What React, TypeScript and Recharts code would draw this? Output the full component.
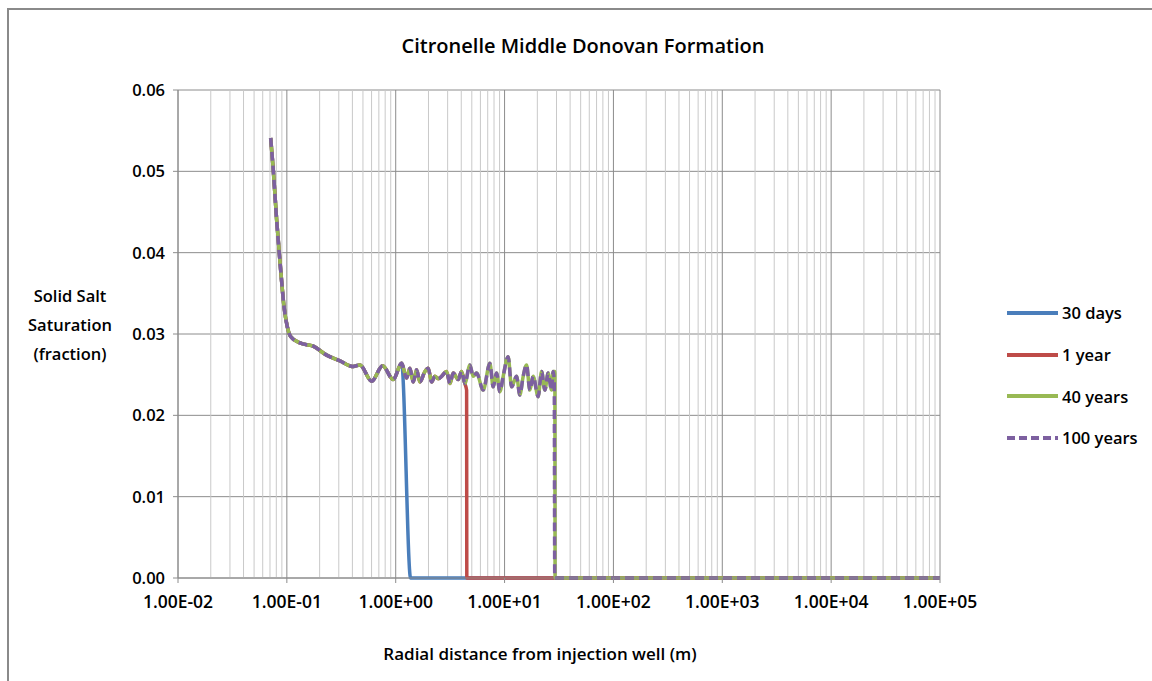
import React from "react";
import {
  LineChart,
  Line,
  XAxis,
  YAxis,
  CartesianGrid,
  ReferenceLine,
} from "recharts";

// Shared profile (radial distance in m, solid salt saturation)
const profileX = [
  0.071, 0.075, 0.0806, 0.0877, 0.0941, 0.1009, 0.1083, 0.1319, 0.1748, 0.232,
  0.3073, 0.4072, 0.469, 0.6008, 0.7584, 0.9484, 1.133, 1.259, 1.35, 1.448,
  1.556, 1.668, 1.854, 1.988, 2.137, 2.291, 2.457, 2.639, 2.934, 3.147, 3.373,
  3.749, 4.028, 4.318, 4.801, 5.148, 5.533, 6.362, 7.328, 7.859, 8.444, 9.054,
  9.707, 10.79, 11.6, 12.89, 13.82, 14.82, 15.92, 17.07, 18.31, 20.35, 21.87,
  23.45, 25.14, 27.02, 27.95,
];
const profileY = [
  0.0541, 0.0502, 0.044, 0.0379, 0.0334, 0.0309, 0.0297, 0.0289, 0.0285, 0.0274,
  0.0267, 0.026, 0.0262, 0.0242, 0.0261, 0.0244, 0.0264, 0.0246, 0.0258, 0.0241,
  0.0256, 0.0241, 0.0254, 0.0258, 0.0241, 0.0248, 0.0245, 0.0248, 0.0254, 0.0239,
  0.0252, 0.0244, 0.0254, 0.0239, 0.0262, 0.0248, 0.0252, 0.0231, 0.0264, 0.0235,
  0.0252, 0.0229, 0.0248, 0.0272, 0.0235, 0.0248, 0.0225, 0.0248, 0.0262, 0.0231,
  0.0248, 0.0223, 0.0254, 0.0231, 0.0252, 0.0231, 0.0254,
];

// Front positions (last wet point, then zero) for each time
const days30Tail = { lastX: 1.133, zeroX: 1.37, lastY: 0.0264 };
const year1Tail = { lastX: 4.48, zeroX: 4.5, lastY: 0.0231 };
const year40Tail = { lastX: 28.97, zeroX: 29.1, lastY: 0.0254 };
const year100Tail = { lastX: 28.6, zeroX: 28.9, lastY: 0.0242 };
const farEndX = 100000;

const xTicks = [0.01, 0.1, 1, 10, 100, 1000, 10000, 100000];
const xTickLabels = [
  "1.00E-02",
  "1.00E-01",
  "1.00E+00",
  "1.00E+01",
  "1.00E+02",
  "1.00E+03",
  "1.00E+04",
  "1.00E+05",
];
const yTicks = [0, 0.01, 0.02, 0.03, 0.04, 0.05, 0.06];
const minorMultipliers = [2, 3, 4, 5, 6, 7, 8, 9];

const seriesNames = ["30 days", "1 year", "40 years", "100 years"];
const seriesColors = ["#4A7EBB", "#BE4B48", "#98B954", "#7D60A0"];

function buildSeries(tail: { lastX: number; zeroX: number; lastY: number }) {
  const pts: { x: number; y: number }[] = [];
  for (let i = 0; i < profileX.length; i++) {
    if (profileX[i] < tail.lastX) pts.push({ x: profileX[i], y: profileY[i] });
  }
  pts.push({ x: tail.lastX, y: tail.lastY });
  pts.push({ x: tail.zeroX, y: 0 });
  pts.push({ x: farEndX, y: 0 });
  return pts;
}

const data30 = buildSeries(days30Tail);
const data1 = buildSeries(year1Tail);
const data40 = buildSeries(year40Tail);
const data100 = buildSeries(year100Tail);

const minorX: number[] = [];
for (let d = 0; d < xTicks.length - 1; d++) {
  for (const m of minorMultipliers) minorX.push(xTicks[d] * m);
}

const FONT = "'Open Sans', 'Liberation Sans', Arial, sans-serif";
const FW = 600;

const YLabel = () => {
  const cx = 70;
  return (
    <text
      x={cx}
      y={302}
      textAnchor="middle"
      fontFamily={FONT}
      fontWeight={FW}
      fontSize={16.5}
      fill="#000"
    >
      <tspan x={cx} dy={0}>Solid Salt</tspan>
      <tspan x={cx} dy={29}>Saturation</tspan>
      <tspan x={cx} dy={29}>(fraction)</tspan>
    </text>
  );
};

export default function App() {
  return (
    <div
      style={{
        position: "absolute",
        left: 0,
        top: 0,
        width: 1152,
        height: 681,
        background: "#fff",
      }}
    >
      <div
        style={{
          position: "absolute",
          left: 7,
          top: 8,
          width: 1145,
          height: 673,
          borderLeft: "2px solid #8a8a8a",
          borderTop: "2px solid #8a8a8a",
          boxSizing: "border-box",
        }}
      />
      <div
        style={{
          position: "absolute",
          left: 0,
          top: 32,
          width: 1166,
          textAlign: "center",
          fontFamily: FONT,
          fontWeight: 600,
          fontSize: 20,
          color: "#000",
        }}
      >
        Citronelle Middle Donovan Formation
      </div>
      <div style={{ position: "absolute", left: 0, top: 0 }}>
        <LineChart
          width={1152}
          height={681}
          margin={{ top: 90, right: 212, bottom: 73, left: 118 }}
        >
          <CartesianGrid stroke="#8c8c8c" strokeWidth={1} vertical={false} />
          {minorX.map((v) => (
            <ReferenceLine key={"m" + v} x={v} stroke="#c9c9c9" strokeWidth={1} />
          ))}
          {xTicks.map((v) => (
            <ReferenceLine key={"M" + v} x={v} stroke="#8c8c8c" strokeWidth={1} />
          ))}
          <XAxis
            type="number"
            dataKey="x"
            scale="log"
            domain={[0.01, 100000]}
            ticks={xTicks}
            allowDataOverflow
            tickFormatter={(v: number) => xTickLabels[xTicks.indexOf(v)] ?? ""}
            tick={{ fontFamily: FONT, fontWeight: FW, fontSize: 17.5, fill: "#000" }}
            axisLine={{ stroke: "#8c8c8c" }}
            tickLine={{ stroke: "#8c8c8c" }}
            tickSize={5}
            tickMargin={13}
            height={30}
            label={{
              value: "Radial distance  from injection well (m)",
              position: "insideBottom",
              offset: -52,
              dx: -19,
              style: { fontFamily: FONT, fontWeight: 600, fontSize: 17, fill: "#000" },
            }}
          />
          <YAxis
            type="number"
            domain={[0, 0.06]}
            ticks={yTicks}
            tickFormatter={(v: number) => v.toFixed(2)}
            tick={{ fontFamily: FONT, fontWeight: FW, fontSize: 16.5, fill: "#000" }}
            axisLine={{ stroke: "#8c8c8c" }}
            tickLine={{ stroke: "#8c8c8c" }}
            tickSize={5}
            tickMargin={8}
            width={60}
            label={<YLabel />}
          />
          <Line
            data={data30}
            dataKey="y"
            name={seriesNames[0]}
            type="monotone"
            stroke={seriesColors[0]}
            strokeWidth={3.5}
            dot={false}
            isAnimationActive={false}
          />
          <Line
            data={data1}
            dataKey="y"
            name={seriesNames[1]}
            type="monotone"
            stroke={seriesColors[1]}
            strokeWidth={3.5}
            dot={false}
            isAnimationActive={false}
          />
          <Line
            data={data40}
            dataKey="y"
            name={seriesNames[2]}
            type="monotone"
            stroke={seriesColors[2]}
            strokeWidth={3.5}
            dot={false}
            isAnimationActive={false}
          />
          <Line
            data={data100}
            dataKey="y"
            name={seriesNames[3]}
            type="monotone"
            stroke={seriesColors[3]}
            strokeWidth={3.5}
            strokeDasharray="9 5"
            dot={false}
            isAnimationActive={false}
          />
        </LineChart>
      </div>
      <div
        style={{
          position: "absolute",
          left: 1005,
          top: 292,
          width: 145,
          fontFamily: FONT,
          fontWeight: FW,
          fontSize: 16.5,
          color: "#000",
        }}
      >
        {seriesNames.map((n, i) => (
          <div
            key={n}
            style={{ display: "flex", alignItems: "center", height: 41.7 }}
          >
            <svg width={54} height={8} style={{ marginRight: 3 }}>
              <line
                x1={2}
                y1={4}
                x2={53}
                y2={4}
                stroke={seriesColors[i]}
                strokeWidth={4}
                strokeDasharray={i === 3 ? "8 4" : undefined}
              />
            </svg>
            <span>{n}</span>
          </div>
        ))}
      </div>
    </div>
  );
}
